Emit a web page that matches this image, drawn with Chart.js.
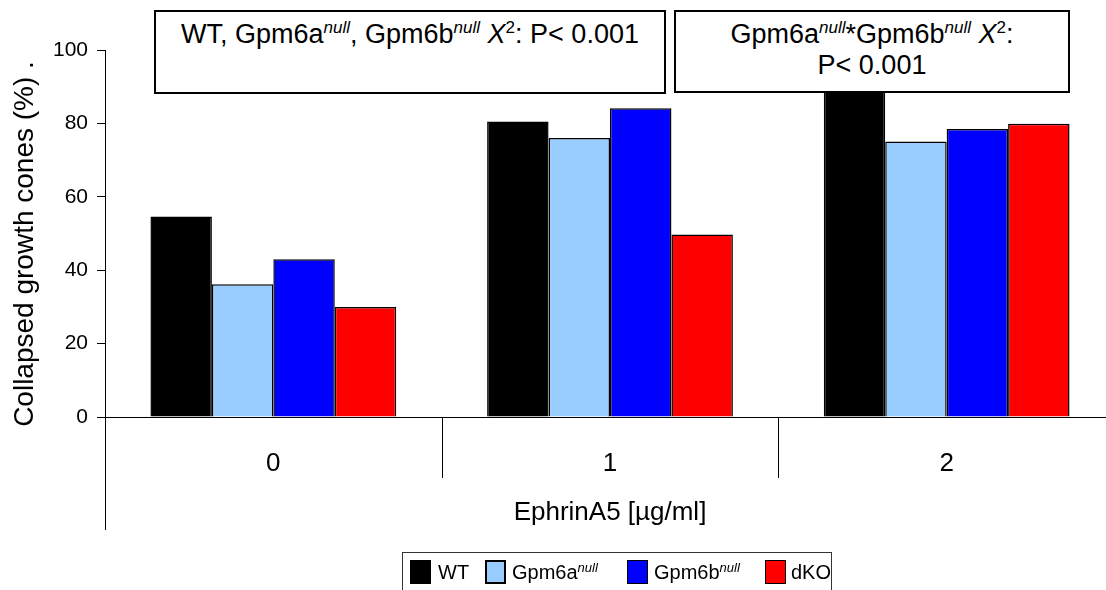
<!DOCTYPE html>
<html>
<head>
<meta charset="utf-8">
<script src="https://cdn.jsdelivr.net/npm/chart.js@4.4.1/dist/chart.umd.min.js"></script>
<style>
    body { margin: 0; background: #fff; overflow: hidden; }
    #wrap { position: relative; width: 1106px; height: 590px; overflow: hidden; font-family: "Liberation Sans", Arial, sans-serif; }
    canvas { position: absolute; left: 0; top: 0; }
    .note {
        position: absolute; background: #fff; border: 2px solid #000; box-sizing: border-box;
        font-size: 27px; line-height: 31px; text-align: center; color: #000; padding-top: 7px;
    }
    .note sup { font-size: 17px; line-height: 0; vertical-align: 10px; }
    #legend {
        position: absolute; left: 402px; top: 552px; width: 430px; height: 44px;
        border: 1px solid #333; box-sizing: border-box; font-size: 20px; color: #000;
    }
    #legend .sw { position: absolute; top: 7px; width: 21px; height: 24px; box-sizing: border-box; border: 1px solid #000; }
    #legend .lb { position: absolute; top: 7px; line-height: 24px; }
    #legend sup { font-size: 13px; line-height: 0; vertical-align: 7px; }
</style>
</head>
<body>
<div id="wrap">
    <canvas id="chart" width="1120" height="590"></canvas>
    <div class="note" style="left:154px; top:10px; width:512px; height:84px;">
        WT, Gpm6a<sup><i>null</i></sup>, Gpm6b<sup><i>null</i></sup> <i>X</i><sup>2</sup>: P&lt; 0.001
    </div>
    <div class="note" style="left:674px; top:10px; width:396px; height:83px;">
        Gpm6a<sup><i>null</i></sup>*Gpm6b<sup><i>null</i></sup> <i>X</i><sup>2</sup>:<br>P&lt; 0.001
    </div>
    <div id="legend"></div>
</div>
<script>
// EphrinA5 concentration groups
const doses = ['0', '1', '2'];
const seriesNames = ['WT', 'Gpm6a', 'Gpm6b', 'dKO'];
const seriesColors = ['#000000', '#99ccff', '#0000ff', '#ff0000'];

// % collapsed growth cones
const wtValues = [54.6, 80.5, 90.0];
const gpm6aValues = [36.2, 76.0, 75.1];
const gpm6bValues = [43.0, 84.1, 78.5];
const dkoValues = [30.0, 49.7, 79.9];

const yTicks = [0, 20, 40, 60, 80, 100];

const allValues = [wtValues, gpm6aValues, gpm6bValues, dkoValues];

// legend is html so the superscripts stay real text
const legendBox = document.getElementById('legend');
const legendSpots = [[7, 35], [82, 109], [224, 251], [362, 388]];
seriesNames.forEach((name, i) => {
    const sw = document.createElement('div');
    sw.className = 'sw';
    sw.style.left = legendSpots[i][0] + 'px';
    sw.style.background = seriesColors[i];
    if (name === 'Gpm6a') sw.style.border = '2px solid #000';
    legendBox.appendChild(sw);
    const lb = document.createElement('div');
    lb.className = 'lb';
    lb.style.left = legendSpots[i][1] + 'px';
    lb.innerHTML = (name === 'Gpm6a' || name === 'Gpm6b') ? name + '<sup><i>null</i></sup>' : name;
    legendBox.appendChild(lb);
});

// axis titles, separators and the long y axis line
const extrasPlugin = {
    id: 'extras',
    afterDraw(chart) {
        const {ctx, chartArea, scales: {x}} = chart;
        ctx.save();
        ctx.strokeStyle = '#000';
        ctx.lineWidth = 1;
        ctx.beginPath();
        ctx.moveTo(chartArea.left + 0.5, chartArea.bottom);
        ctx.lineTo(chartArea.left + 0.5, 530);
        for (let i = 0; i < doses.length - 1; i++) {
            const sx = Math.round((x.getPixelForTick(i) + x.getPixelForTick(i + 1)) / 2) + 0.5;
            ctx.moveTo(sx, chartArea.bottom);
            ctx.lineTo(sx, 478);
        }
        ctx.stroke();

        ctx.fillStyle = '#000';
        ctx.font = '26px "Liberation Sans", Arial, sans-serif';
        ctx.textAlign = 'center';
        ctx.textBaseline = 'middle';
        ctx.fillText('EphrinA5 [µg/ml]', (chartArea.left + chartArea.right) / 2, 513);

        ctx.translate(33, 244);
        ctx.rotate(-Math.PI / 2);
        ctx.font = '28px "Liberation Sans", Arial, sans-serif';
        ctx.textBaseline = 'alphabetic';
        ctx.fillText('Collapsed growth cones (%) .', 0, 0);
        ctx.restore();
    }
};

new Chart(document.getElementById('chart'), {
    type: 'bar',
    data: {
        labels: doses,
        datasets: seriesNames.map((name, i) => ({
            label: name,
            data: allValues[i],
            backgroundColor: seriesColors[i],
            borderColor: '#000',
            borderWidth: 1.5,
            categoryPercentage: 0.73,
            barPercentage: 1.0
        }))
    },
    options: {
        responsive: false,
        animation: false,
        devicePixelRatio: 1,
        layout: {padding: {top: 50, right: 5, left: 0, bottom: 0}},
        plugins: {legend: {display: false}, tooltip: {enabled: false}},
        scales: {
            x: {
                grid: {display: true, drawOnChartArea: false, drawTicks: false},
                border: {display: true, color: '#000', width: 1},
                ticks: {color: '#000', padding: 31, font: {family: '"Liberation Sans", Arial, sans-serif', size: 26}},
                afterFit: (scale) => { scale.height = 173; }
            },
            y: {
                min: 0,
                max: 100,
                afterBuildTicks: (scale) => { scale.ticks = yTicks.map(v => ({value: v})); },
                grid: {display: true, drawOnChartArea: false, drawTicks: true, tickLength: 8, color: '#000'},
                border: {display: true, color: '#000', width: 1},
                ticks: {color: '#000', padding: 9, font: {family: '"Liberation Sans", Arial, sans-serif', size: 21}},
                afterFit: (scale) => { scale.width = 105; }
            }
        }
    },
    plugins: [extrasPlugin]
});
</script>
</body>
</html>
